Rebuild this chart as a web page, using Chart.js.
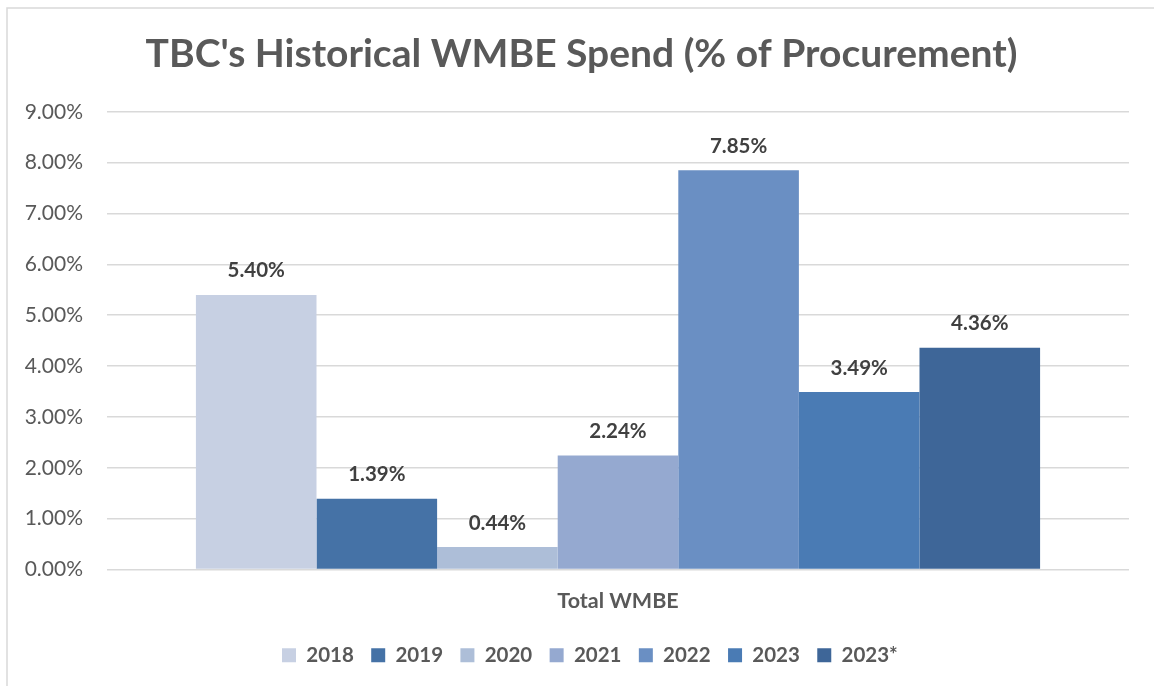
<!DOCTYPE html>
<html>
<head>
<meta charset="utf-8">
<script src="https://cdn.jsdelivr.net/npm/chart.js@4.4.1/dist/chart.umd.min.js"></script>
<style>
html,body{margin:0;padding:0;background:#fff;}
#wrap{position:relative;width:1154px;height:686px;}
canvas{display:block;}
</style>
</head>
<body>
<div id="wrap"><canvas id="c" width="1154" height="686"></canvas></div>
<script>
// ---- data ----
const chartTitle = "TBC's Historical WMBE Spend (% of Procurement)";
const categories = ['Total WMBE'];
const seriesNames = ['2018', '2019', '2020', '2021', '2022', '2023', '2023*'];
const spendPct = [5.40, 1.39, 0.44, 2.24, 7.85, 3.49, 4.36];
const yMin = 0, yMax = 9, yStep = 1;

// ---- styles ----
const seriesColors = ['#C7D0E3', '#4572A6', '#ADBED8', '#95A9D0', '#6A8FC3', '#4A7BB4', '#3E6698'];
const FONT = 'Lato, "Open Sans", sans-serif';
const TXT = '#595959';

const frame = {
  id: 'frame',
  beforeDraw(chart) {
    const ctx = chart.ctx;
    ctx.save();
    ctx.strokeStyle = '#D9D9D9';
    ctx.lineWidth = 1.5;
    ctx.beginPath();
    ctx.moveTo(7, 686);
    ctx.lineTo(7, 8);
    ctx.lineTo(1154, 8);
    ctx.stroke();
    ctx.restore();
  }
};

const valueLabels = {
  id: 'valueLabels',
  afterDatasetsDraw(chart) {
    const ctx = chart.ctx;
    ctx.save();
    ctx.font = 'bold 20.5px ' + FONT;
    ctx.fillStyle = '#404040';
    ctx.textAlign = 'center';
    ctx.textBaseline = 'alphabetic';
    chart.data.datasets.forEach((ds, i) => {
      const meta = chart.getDatasetMeta(i);
      meta.data.forEach((bar, j) => {
        const v = ds.data[j];
        ctx.fillText(v.toFixed(2) + '%', bar.x, bar.y - 17.5);
      });
    });
    ctx.restore();
  }
};

// centre title and legend on the reference's frame (which is wider than the canvas)
const blockShift = {
  id: 'blockShift',
  beforeDraw(chart) {
    const t = chart.titleBlock;
    if (t && !t._shifted) { t.left += 17; t.right += 17; t._shifted = true; }
    const lg = chart.legend;
    if (!lg || !lg.legendHitBoxes || !lg.legendHitBoxes.length) return;
    const dx = 282 - lg.legendHitBoxes[0].left;
    if (Math.abs(dx) < 0.5) return;
    lg.left += dx; lg.right += dx;
    lg.adjustHitBoxes();
  }
};

const datasets = seriesNames.map((name, i) => ({
  label: name,
  data: [spendPct[i]],
  backgroundColor: seriesColors[i],
  borderWidth: 0,
  categoryPercentage: 0.826,
  barPercentage: 1.0
}));

new Chart(document.getElementById('c'), {
  type: 'bar',
  data: { labels: categories, datasets },
  options: {
    responsive: false,
    animation: false,
    layout: { padding: { left: 0, right: 25, top: 0, bottom: 10.6 } },
    plugins: {
      title: {
        display: true,
        text: chartTitle,
        color: TXT,
        font: { family: FONT, size: 39, weight: 'bold' },
        padding: { top: 31, bottom: 34 }
      },
      legend: {
        position: 'bottom',
        labels: {
          color: TXT,
          font: { family: FONT, size: 20.5, weight: 'bold' },
          boxWidth: 14,
          boxHeight: 14,
          padding: 17.4
        }
      },
      tooltip: { enabled: false }
    },
    scales: {
      x: {
        grid: { display: false },
        border: { display: false },
        ticks: {
          color: TXT,
          font: { family: FONT, size: 21.5, weight: 'bold' },
          padding: 11
        },
        afterFit(scale) { scale.height = 58; }
      },
      y: {
        min: yMin,
        max: yMax,
        grid: { color: '#D9D9D9', lineWidth: 1.5, drawTicks: false },
        border: { display: false },
        ticks: {
          stepSize: yStep,
          color: TXT,
          font: { family: FONT, size: 21 },
          padding: 24,
          callback: v => v.toFixed(2) + '%'
        },
        afterFit(scale) { scale.width = 107; }
      }
    }
  },
  plugins: [frame, valueLabels, blockShift]
});
</script>
</body>
</html>
